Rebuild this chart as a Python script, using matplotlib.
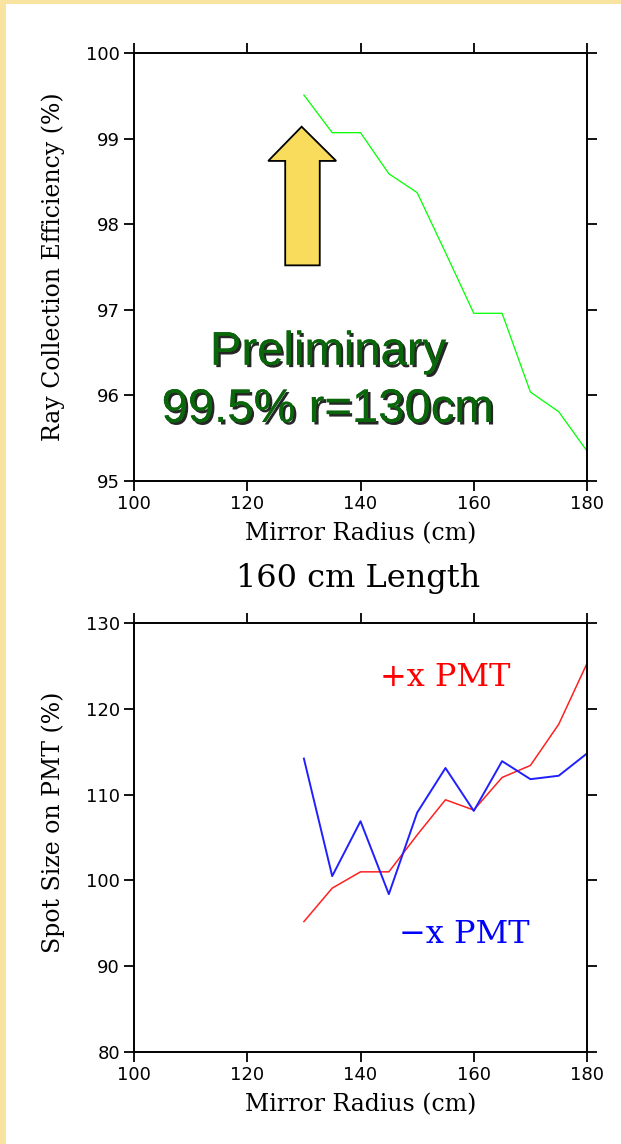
import matplotlib.pyplot as plt
import matplotlib.patheffects as pe
from matplotlib.patches import Rectangle, Polygon

# mirror radius (cm)
radius = [130, 135, 140, 145, 150, 155, 160, 165, 170, 175, 180]

# ray collection efficiency (%)
efficiency = [99.51, 99.07, 99.07, 98.59, 98.37, 97.67, 96.96, 96.96, 96.04, 95.81, 95.35]

# spot size on PMT (%)
spot_plus = [95.2, 99.1, 101.0, 101.0, 105.3, 109.4, 108.2, 112.0, 113.4, 118.2, 125.3]
spot_minus = [114.2, 100.5, 106.9, 98.4, 107.9, 113.1, 108.1, 113.9, 111.8, 112.2, 114.8]

xticks = [100, 120, 140, 160, 180]
eff_ticks = [95, 96, 97, 98, 99, 100]
spot_ticks = [80, 90, 100, 110, 120, 130]

serif = 'DejaVu Serif'
sans = 'DejaVu Sans'

fig = plt.figure(figsize=(6.21, 11.44), dpi=100)
fig.patch.set_facecolor('#F8E4A0')
fig.patches.append(Rectangle((6 / 621, 0), 1, 1 - 4 / 1144, transform=fig.transFigure,
                             facecolor='white', edgecolor='none', zorder=-10))

ax1 = fig.add_axes([0.2158, 0.5795, 0.7295, 0.3741])
ax2 = fig.add_axes([0.2158, 0.0804, 0.7295, 0.3750])


def style(ax, yticks, ylabel, ly):
    ax.set_xlim(100, 180)
    ax.set_ylim(yticks[0], yticks[-1])
    ax.set_xticks(xticks)
    ax.set_yticks(yticks)
    ax.tick_params(direction='out', length=7, width=1.3, top=True, right=True,
                   labelsize=13, pad=3)
    for lab in ax.get_xticklabels() + ax.get_yticklabels():
        lab.set_family(sans)
    for s in ax.spines.values():
        s.set_linewidth(1.4)
    ax.set_xlabel('Mirror Radius (cm)', family=serif, fontsize=17)
    ax.xaxis.set_label_coords(0.5, -0.095)
    ax.set_ylabel(ylabel, family=serif, fontsize=17)
    ax.yaxis.set_label_coords(-0.152, ly)


# top panel
style(ax1, eff_ticks, 'Ray Collection Efficiency (%)', 0.5)
ax1.plot(radius, efficiency, color='#00FF00', lw=0.9)

arrow = [(126.7, 97.52), (132.8, 97.52), (132.8, 98.74), (135.7, 98.74),
         (129.6, 99.14), (123.7, 98.74), (126.7, 98.74)]
ax1.add_patch(Polygon(arrow, closed=True, facecolor='#F9DC5C', edgecolor='black',
                      lw=1.3, zorder=3))

shadow = [pe.withSimplePatchShadow(offset=(1.8, -1.8), shadow_rgbFace='black', alpha=0.85),
          pe.Normal()]
ax1.text(0.428, 0.30, 'Preliminary', transform=ax1.transAxes, ha='center', va='center',
         color='#0A660A', fontsize=34, family='Liberation Sans', path_effects=shadow)
ax1.text(0.428, 0.166, '99.5% r=130cm', transform=ax1.transAxes, ha='center', va='center',
         color='#0A660A', fontsize=34, family='Liberation Sans', path_effects=shadow)

fig.text(0.577, 1 - 578 / 1144, '160 cm Length', family=serif, fontsize=23,
         ha='center', va='center')

# bottom panel
style(ax2, spot_ticks, 'Spot Size on PMT (%)', 0.535)
ax2.plot(radius, spot_plus, color='#FF2020', lw=1.1)
ax2.plot(radius, spot_minus, color='#2020FF', lw=1.4)
ax2.text(155, 123.6, '+x PMT', color='red', family=serif, fontsize=23,
         ha='center', va='center')
ax2.text(158.3, 93.7, '\u2212x PMT', color='blue', family=serif, fontsize=23,
         ha='center', va='center')

fig.savefig('out.png', dpi=100, facecolor=fig.get_facecolor())
